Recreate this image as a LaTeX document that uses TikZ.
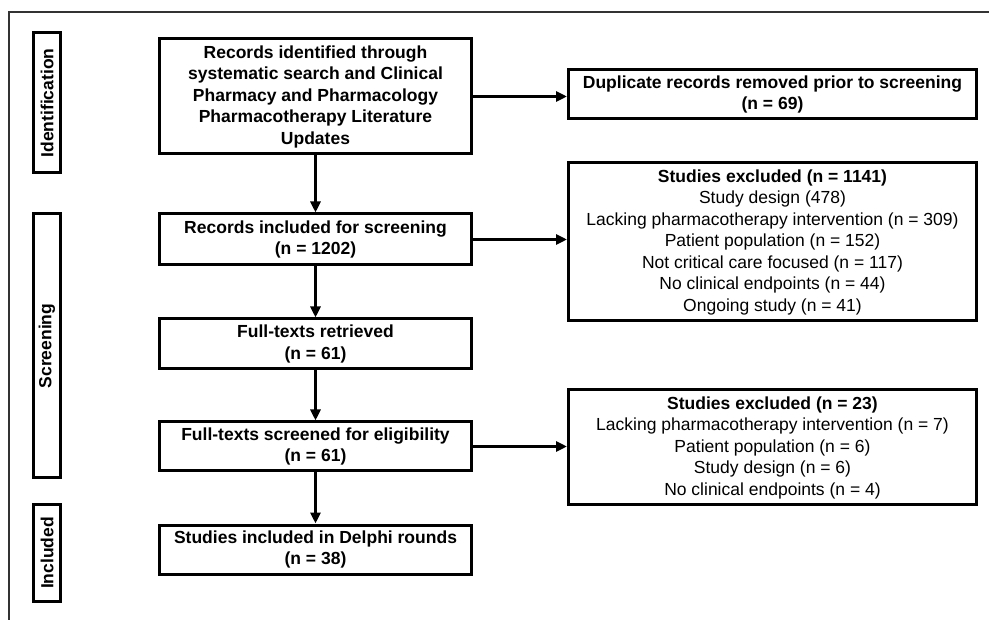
\documentclass[tikz,border=0pt]{standalone}
\usepackage{fontspec}
\setmainfont{Liberation Sans}
\usetikzlibrary{positioning,arrows.meta}

\begin{document}
\begin{tikzpicture}[
    x=1pt, y=-1pt,
    stage/.style={rectangle, draw, line width=3pt, align=center, minimum width=312pt,
                  inner sep=2pt, font=\bfseries\fontsize{17.5}{21.5}\selectfont},
    excluded/.style={rectangle, draw, line width=3pt, align=center, minimum width=408pt,
                     inner sep=2pt, font=\fontsize{17.5}{21.5}\selectfont},
    phase/.style={rectangle, draw, line width=3pt, rotate=90, minimum height=27pt,
                  inner sep=1pt, font=\bfseries\fontsize{17.5}{21.5}\selectfont},
    arrow/.style={-{Triangle[length=11pt,width=10pt]}, line width=2.8pt}
]
\useasboundingbox (0,0) rectangle (989,620);

% Frame
\draw[line width=1.6pt, black!80] (989,12) -- (9,12) -- (9,620);

% Phases
\node[phase, minimum width=140pt] (ident) at (47,103) {Identification};
\node[phase, minimum width=264pt] (screen) at (47,346) {Screening};
\node[phase, minimum width=96pt] (incl) at (47,553) {Included};

% Main column
\node[stage, minimum height=115pt] (records) at (315.5,96.5)
    {Records identified through\\systematic search and Clinical\\Pharmacy and Pharmacology\\Pharmacotherapy Literature\\Updates};
\node[stage, minimum height=51pt] (screened) at (315.5,239.5)
    {Records included for screening\\(n = 1202)};
\node[stage, minimum height=50pt] (retrieved) at (315.5,344)
    {Full-texts retrieved\\(n = 61)};
\node[stage, minimum height=49pt] (eligible) at (315.5,446.5)
    {Full-texts screened for eligibility\\(n = 61)};
\node[stage, minimum height=49pt] (delphi) at (315.5,549.5)
    {Studies included in Delphi rounds\\(n = 38)};

% Right column
\node[stage, minimum width=408pt, minimum height=49pt] (dup) at (772.5,94.5)
    {Duplicate records removed prior to screening\\(n = 69)};
\node[excluded, minimum height=158pt] (excl1) at (772.5,242)
    {\textbf{Studies excluded (n = 1141)}\\Study design (478)\\Lacking pharmacotherapy intervention (n = 309)\\Patient population (n = 152)\\Not critical care focused (n = 117)\\No clinical endpoints (n = 44)\\Ongoing study (n = 41)};
\node[excluded, minimum height=115pt] (excl2) at (772.5,447.5)
    {\textbf{Studies excluded (n = 23)}\\Lacking pharmacotherapy intervention (n = 7)\\Patient population (n = 6)\\Study design (n = 6)\\No clinical endpoints (n = 4)};

% Arrows - down
\draw[arrow] (records) -- (screened);
\draw[arrow] (screened) -- (retrieved);
\draw[arrow] (retrieved) -- (eligible);
\draw[arrow] (eligible) -- (delphi);

% Arrows - across
\draw[arrow] (records.east) -- (records.east -| dup.west);
\draw[arrow] (screened.east) -- (screened.east -| excl1.west);
\draw[arrow] (eligible.east) -- (eligible.east -| excl2.west);

\end{tikzpicture}
\end{document}
